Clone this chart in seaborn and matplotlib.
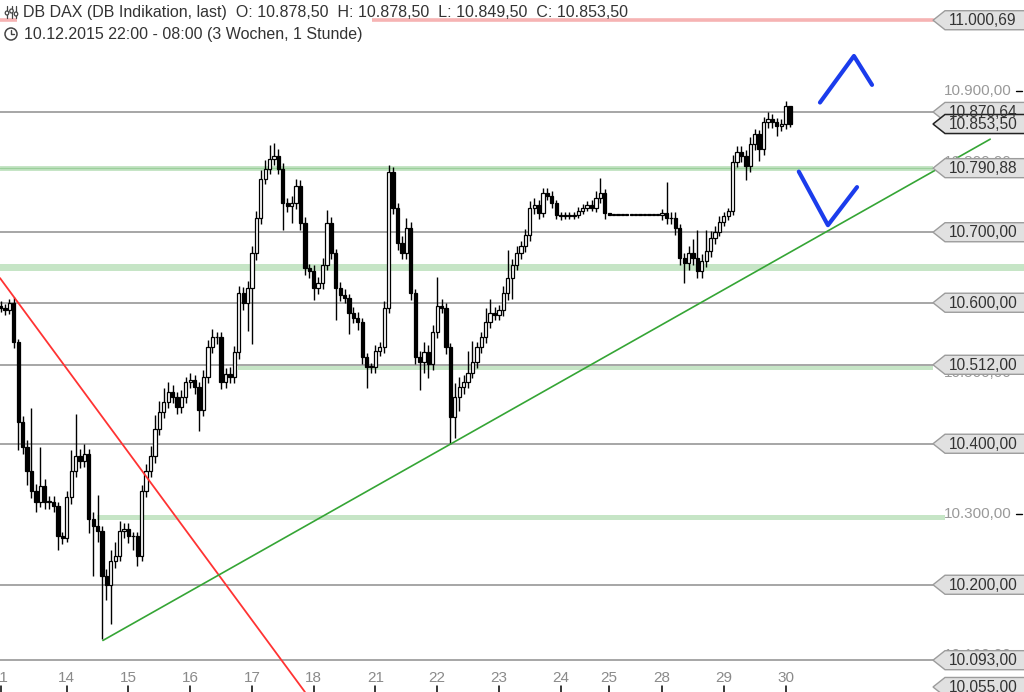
import numpy as np
import pandas as pd
import matplotlib
matplotlib.use("Agg")
import matplotlib.pyplot as plt
import matplotlib.transforms as mtransforms
from matplotlib.patches import Polygon, Ellipse, Rectangle
from matplotlib.lines import Line2D
import seaborn as sns

# ---------------- data (hourly candles, DB DAX Indikation) ----------------
closes = [
    10593, 10589, 10600, 10544, 10431, 10396, 10361, 10333, 10318, 10340,
    10318, 10318, 10311, 10269, 10266, 10325, 10361, 10382, 10375, 10385,
    10293, 10283, 10276, 10213, 10199, 10234, 10241, 10276, 10279, 10269,
    10269, 10241, 10333, 10361, 10382, 10421, 10445, 10459, 10473, 10466,
    10452, 10466, 10487, 10490, 10480, 10448, 10494, 10537, 10551, 10551,
    10487, 10499, 10494, 10530, 10614, 10600, 10621, 10670, 10720, 10776,
    10790, 10804, 10808, 10790, 10741, 10737, 10741, 10766, 10713, 10649,
    10645, 10621, 10628, 10654, 10713, 10670, 10621, 10611, 10607, 10586,
    10579, 10572, 10523, 10509, 10509, 10532, 10537, 10593, 10786, 10734,
    10685, 10670, 10706, 10614, 10523, 10516, 10530, 10513, 10558, 10596,
    10593, 10537, 10438, 10466, 10480, 10487, 10501, 10516, 10537, 10551,
    10572, 10586, 10583, 10589, 10614, 10635, 10654, 10670, 10680, 10696,
    10734, 10738, 10727, 10755, 10752, 10741, 10724, 10723, 10724, 10723,
    10724, 10730, 10734, 10738, 10734, 10748, 10755, 10727, 10725, 10725,
    10725, 10725, 10725, 10725, 10725, 10725, 10725, 10725, 10725, 10725,
    10727, 10720, 10720, 10706, 10663, 10656, 10670, 10663, 10645, 10659,
    10673, 10692, 10701, 10715, 10723, 10730, 10800, 10814, 10808, 10794,
    10825, 10839, 10818, 10856, 10861, 10856, 10851, 10853, 10878.5, 10853.5,
]
first_open = 10596
wick_up = [
    6, 5, 5, 8, 5, 8, 10, 90, 10, 55,
    10, 8, 8, 6, 6, 8, 30, 60, 10, 15,
    8, 10, 45, 8, 10, 15, 20, 15, 8, 8,
    6, 6, 8, 10, 15, 20, 15, 20, 15, 10,
    8, 10, 8, 10, 8, 8, 10, 10, 12, 8,
    8, 8, 10, 8, 10, 8, 10, 10, 10, 12,
    12, 20, 18, 10, 8, 8, 10, 10, 8, 8,
    6, 8, 8, 10, 18, 8, 6, 8, 8, 6,
    8, 8, 6, 6, 6, 8, 8, 10, 10, 6,
    8, 10, 14, 8, 6, 8, 15, 10, 10, 40,
    10, 6, 6, 20, 15, 10, 30, 30, 8, 8,
    20, 20, 8, 8, 10, 40, 8, 10, 8, 8,
    10, 10, 8, 8, 8, 6, 5, 4, 4, 4,
    4, 6, 6, 6, 8, 10, 22, 6, 0, 0,
    0, 0, 0, 0, 0, 0, 0, 0, 0, 0,
    6, 44, 8, 8, 6, 8, 10, 20, 40, 10,
    30, 10, 8, 8, 6, 5, 10, 8, 8, 8,
    10, 8, 6, 8, 10, 6, 6, 8, 8, 0,
]
wick_dn = [
    6, 6, 5, 8, 40, 10, 20, 10, 15, 8,
    10, 10, 8, 20, 8, 6, 10, 8, 10, 8,
    20, 70, 15, 90, 20, 55, 10, 8, 10, 10,
    20, 15, 8, 8, 8, 10, 8, 8, 8, 8,
    10, 8, 8, 8, 10, 30, 8, 8, 8, 10,
    10, 8, 8, 8, 10, 10, 40, 80, 10, 8,
    8, 8, 8, 8, 38, 8, 24, 8, 10, 10,
    10, 17, 8, 8, 8, 8, 45, 8, 8, 30,
    8, 10, 10, 30, 8, 8, 8, 8, 8, 8,
    10, 8, 8, 10, 10, 40, 15, 20, 8, 8,
    8, 10, 38, 30, 20, 10, 8, 8, 8, 8,
    8, 8, 8, 8, 8, 10, 30, 8, 8, 8,
    8, 8, 8, 6, 6, 6, 5, 5, 4, 4,
    4, 4, 4, 4, 4, 6, 6, 8, 0, 0,
    0, 0, 0, 0, 0, 0, 0, 0, 0, 0,
    8, 8, 8, 10, 10, 28, 10, 10, 10, 10,
    8, 8, 8, 6, 6, 5, 5, 8, 8, 20,
    8, 8, 17, 8, 8, 8, 15, 8, 6, 4,
]
day_labels = ["11", "14", "15", "16", "17", "18", "21", "22", "23", "24", "25", "28", "29", "30"]
day_first_index = [0, 15, 29, 43, 57, 71, 85, 99, 113, 127, 138, 150, 164, 178]

grey_levels = [10870.64, 10700, 10600, 10512, 10400, 10200, 10093]
green_zone_levels = [10790.88, 10650, 10507, 10295]
green_zone_heights = [7, 11, 6, 7]
green_zone_start_px = [0, 0, 238, 97]
green_zone_end_px = [933, 1024, 933, 945]
resistance_level = 11000.69
tag_values = [11000.69, 10870.64, 10853.50, 10790.88, 10700, 10600, 10512, 10400, 10200, 10093, 10055]
tag_texts = ["11.000,69", "10.870,64", "10.853,50", "10.790,88", "10.700,00", "10.600,00",
             "10.512,00", "10.400,00", "10.200,00", "10.093,00", "10.055,00"]
axis_levels = [10100, 10300, 10500, 10800, 10900]
axis_texts = ["10.100,00", "10.300,00", "10.500,00", "10.800,00", "10.900,00"]

red_trend_x = [-0.14, 69.0]
red_trend_y = [10635, 10048]
green_trend_x = [23.2, 224.4]
green_trend_y = [10121, 10832]
up_arrow_x = [185.8, 193.5, 197.6]
up_arrow_y = [10884, 10950, 10909]
down_arrow_x = [181.0, 187.6, 194.2]
down_arrow_y = [10786, 10710, 10764]

# ---------------- figure ----------------
sns.set_theme(style="white")
plt.rcParams['font.family'] = ['Liberation Sans', 'DejaVu Sans']

W, H = 1024, 692
fig = plt.figure(figsize=(W / 100, H / 100), dpi=100)
fig.patch.set_facecolor("white")
ax = fig.add_axes([0, 28 / H, 1, 664 / H])
ax.set_facecolor("white")
XMIN, XMAX = -0.6 / 4.41, (W - 0.6) / 4.41
ax.set_xlim(XMIN, XMAX)
ax.set_ylim(10087.6, 11029.4)
for s in ax.spines.values():
    s.set_visible(False)
ax.set_yticks([])

# green zones
for v, h, x0, x1 in zip(green_zone_levels, green_zone_heights, green_zone_start_px, green_zone_end_px):
    ax.axhspan(v - h / 2, v + h / 2, xmin=x0 / W, xmax=x1 / W, color="#c6e5c6", lw=0, zorder=1)
ax.axhline(green_zone_levels[0], xmin=0, xmax=933 / W, color="#9bcf9b", lw=1.0, zorder=1.2)

# grey horizontal levels
for v in grey_levels:
    ax.axhline(v, xmin=0, xmax=933 / W, color="#8e8e8e", lw=1.1, zorder=1.5)
ax.axhline(resistance_level, xmin=0, xmax=933 / W, color="#f6b3b3", lw=2.6, zorder=1.5)

# candles
idx = np.arange(len(closes))
c = np.array(closes, dtype=float)
o = np.array([first_open] + closes[:-1], dtype=float)
hi = np.maximum(o, c) + np.array(wick_up)
lo = np.minimum(o, c) - np.array(wick_dn)
df = pd.DataFrame({"i": idx, "o": o, "c": c, "h": hi, "l": lo})
up = df["c"] >= df["o"]
ax.vlines(df["i"], df["l"], df["h"], color="black", lw=1.0, zorder=3)
body_h = np.maximum((df["c"] - df["o"]).abs(), 0.6)
ax.bar(df["i"], body_h, bottom=np.minimum(df["o"], df["c"]), width=0.74,
       color=np.where(up, "white", "black"), edgecolor="black", lw=0.9, zorder=4)

# trend lines (seaborn)
sns.lineplot(x=red_trend_x, y=red_trend_y, ax=ax, color="#ff3333", lw=1.3,
             estimator=None, sort=False, zorder=5)
ax.lines[-1].set_clip_on(False)
sns.lineplot(x=green_trend_x, y=green_trend_y, ax=ax, color="#35a535", lw=1.2,
             estimator=None, sort=False, zorder=5)
ax.lines[-1].set_clip_on(False)
sns.lineplot(x=up_arrow_x, y=up_arrow_y, ax=ax, color="#1b3cec", lw=3.0,
             estimator=None, sort=False, zorder=6)
sns.lineplot(x=down_arrow_x, y=down_arrow_y, ax=ax, color="#1b3cec", lw=3.0,
             estimator=None, sort=False, zorder=6)

# right axis labels (under the tags)
trans_y = mtransforms.blended_transform_factory(ax.transAxes, ax.transData)
for v, t in zip(axis_levels, axis_texts):
    ax.text(1012 / W, v, t, transform=trans_y, ha="right", va="center",
            fontsize=11, color="#999999", zorder=7, clip_on=False)
    ax.plot([1016 / W, 1022 / W], [v, v], transform=trans_y, color="black",
            lw=1.0, zorder=7, clip_on=False)

# price tags
half = 13.5
for v, t in zip(tag_values, tag_texts):
    current = (t == "10.853,50")
    poly = Polygon([(933 / W, v), (945 / W, v + half), (1.02, v + half),
                    (1.02, v - half), (945 / W, v - half)], closed=True,
                   transform=trans_y, facecolor="#e1e1e1",
                   edgecolor="#222222" if current else "#9c9c9c",
                   lw=1.1 if current else 1.0, zorder=8, clip_on=False)
    ax.add_patch(poly)
    ax.text(949 / W, v - 0.5, t, transform=trans_y, ha="left", va="center",
            fontsize=11.2, color="#333333", zorder=9, clip_on=False)

# x axis labels and tick marks
ax.set_xticks(day_first_index)
ax.set_xticklabels(day_labels)
ax.tick_params(axis="x", length=0, pad=5, labelsize=11, labelcolor="#8a8a8a")
trans_x = mtransforms.blended_transform_factory(ax.transData, fig.transFigure)
for d in day_first_index:
    ax.plot([d, d], [0, 6 / H], transform=trans_x, color="black", lw=1.1, clip_on=False)

# header
fig.add_artist(Rectangle((17 / W, 1 - 44 / H), (372 - 17) / W, 42 / H,
                         transform=fig.transFigure, facecolor="white", edgecolor="none", zorder=10))
fig.text(23 / W, 1 - 12 / H,
         "DB DAX (DB Indikation, last)  O: 10.878,50  H: 10.878,50  L: 10.849,50  C: 10.853,50",
         ha="left", va="center", fontsize=11.5, color="#333333", zorder=11)
fig.text(24 / W, 1 - 34 / H, "10.12.2015 22:00 - 08:00 (3 Wochen, 1 Stunde)",
         ha="left", va="center", fontsize=11.5, color="#333333", zorder=11)
for xp, yb in zip([7, 11.5, 16], [13, 11, 14]):
    fig.add_artist(Line2D([xp / W, xp / W], [1 - 18 / H, 1 - 6 / H], transform=fig.transFigure,
                          color="#444444", lw=0.9, zorder=11))
    fig.add_artist(Ellipse((xp / W, 1 - yb / H), 3.5 / W, 4 / H, transform=fig.transFigure,
                           facecolor="white", edgecolor="#444444", lw=0.9, zorder=12))
fig.add_artist(Ellipse((11 / W, 1 - 34 / H), 12 / W, 12 / H, transform=fig.transFigure,
                       fill=False, edgecolor="#444444", lw=1.1, zorder=11))
fig.add_artist(Line2D([11 / W, 11 / W, 14 / W], [1 - 30 / H, 1 - 34 / H, 1 - 34 / H],
                      transform=fig.transFigure, color="#444444", lw=1.0, zorder=11))

fig.savefig("out.png", dpi=100, facecolor="white")
